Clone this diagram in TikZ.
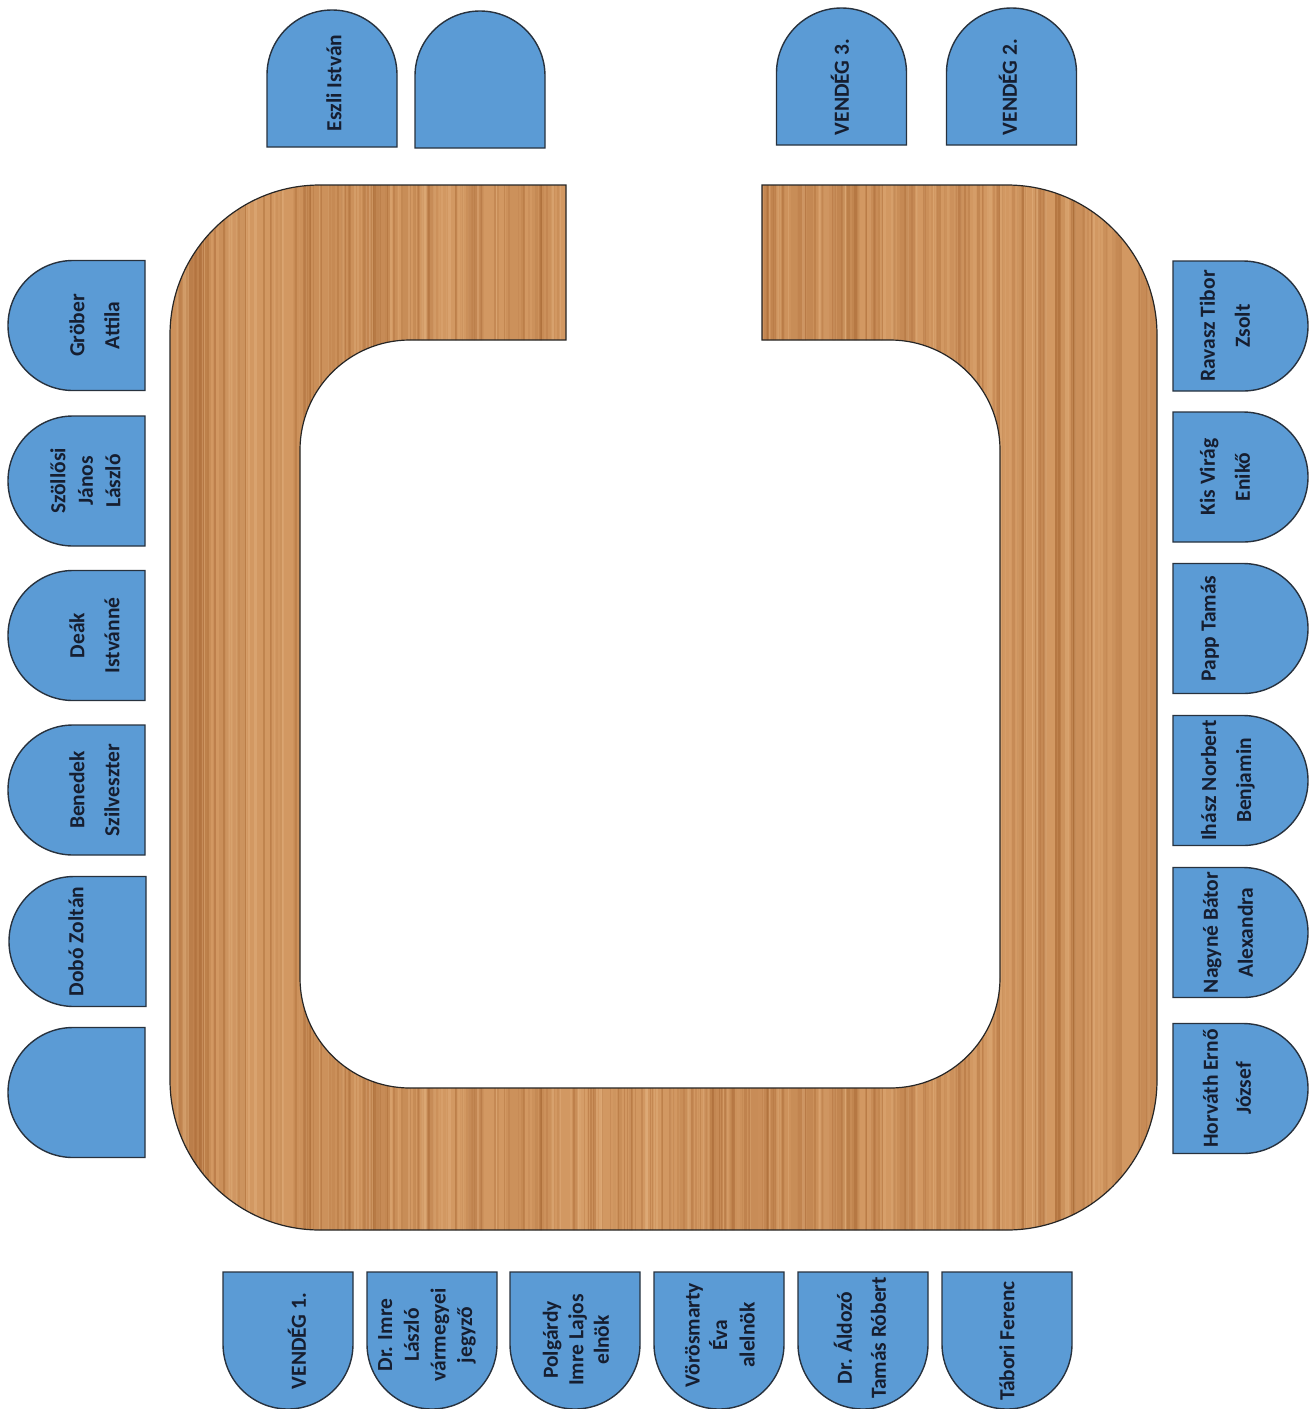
\documentclass[tikz,border=0pt]{standalone}
\usepackage{fontspec}
\setmainfont{Carlito}
\definecolor{chairblue}{RGB}{91,155,213}
\definecolor{chairedge}{RGB}{40,50,62}
\definecolor{txtc}{RGB}{22,30,48}
\definecolor{woodbase}{RGB}{210,152,98}
\definecolor{wooddark}{RGB}{165,100,48}
\definecolor{woodlight}{RGB}{230,182,132}
\tikzset{
  chair/.style={fill=chairblue,draw=chairedge,line width=1.4},
  lbl/.style={rotate=90,align=center,text=txtc,inner sep=0,font=\fontsize{21.5}{#1}\selectfont\bfseries},
  lbl/.default=30,
  tableedge/.style={draw=black!85,line width=1.2}
}
% chairs: #1 flat-edge coordinate, #2 centre along the edge
\newcommand\chairL[2]{\draw[chair] (#1,#2-65) -- (#1,#2+65) -- (#1-72,#2+65) arc[start angle=90,end angle=270,x radius=65,y radius=65] -- cycle;}
\newcommand\chairR[2]{\draw[chair] (#1,#2-65) -- (#1,#2+65) -- (#1+70,#2+65) arc[start angle=90,end angle=-90,x radius=65,y radius=65] -- cycle;}
\newcommand\chairT[2]{\draw[chair] (#2-65,#1) -- (#2+65,#1) -- (#2+65,#1-72) arc[start angle=0,end angle=-180,x radius=65,y radius=65] -- cycle;}
\newcommand\chairB[2]{\draw[chair] (#2-65,#1) -- (#2+65,#1) -- (#2+65,#1+72) arc[start angle=0,end angle=180,x radius=65,y radius=65] -- cycle;}
\def\tablepath{(566,185) -- (320,185) arc[start angle=-90,end angle=-180,radius=150]
  -- (170,1080) arc[start angle=180,end angle=90,radius=150]
  -- (1007,1230) arc[start angle=90,end angle=0,radius=150]
  -- (1157,335) arc[start angle=0,end angle=-90,radius=150]
  -- (762,185) -- (762,340) -- (890,340) arc[start angle=-90,end angle=0,radius=110]
  -- (1000,978) arc[start angle=0,end angle=90,radius=110]
  -- (410,1088) arc[start angle=90,end angle=180,radius=110]
  -- (300,450) arc[start angle=180,end angle=270,radius=110]
  -- (566,340) -- cycle}
\begin{document}
\begin{tikzpicture}[x=1pt,y=-1pt]
\useasboundingbox[fill=white] (0,0) rectangle (1316,1409);
% ---------- table with wood grain ----------
\begin{scope}
\clip \tablepath;
\fill[woodbase] (160,175) rectangle (1170,1240);
\pgfmathsetseed{11}
\foreach \i in {1,...,50}{
  \pgfmathsetmacro\xx{170+987*rnd}
  \pgfmathsetmacro\ww{6+18*rnd}
  \pgfmathsetmacro\op{0.08+0.16*rnd}
  \fill[wooddark,opacity=\op] (\xx,175) rectangle ++(\ww,1070);
}
\foreach \i in {1,...,380}{
  \pgfmathsetmacro\xx{170+987*rnd}
  \pgfmathsetmacro\ww{0.8+2.4*rnd}
  \pgfmathsetmacro\op{0.10+0.30*rnd}
  \pgfmathsetmacro\dk{rnd}
  \ifdim\dk pt<0.55pt
    \fill[wooddark,opacity=\op] (\xx,175) rectangle ++(\ww,1070);
  \else
    \fill[woodlight,opacity=\op] (\xx,175) rectangle ++(\ww,1070);
  \fi
}
\end{scope}
\draw[tableedge] \tablepath;
% ---------- chairs: left ----------
\chairL{145}{325.5}
\chairL{145}{481}
\chairL{145}{635.5}
\chairL{145}{790}
\chairL{146}{941.5}
\chairL{145}{1092.5}
% right
\chairR{1173}{326}
\chairR{1173}{477}
\chairR{1173}{628.5}
\chairR{1173}{780.5}
\chairR{1173}{932.5}
\chairR{1173}{1088.5}
% top
\chairT{147}{332}
\chairT{148}{480}
\chairT{145}{841.5}
\chairT{145}{1011.5}
% bottom
\chairB{1272}{288}
\chairB{1272}{432}
\chairB{1272}{575}
\chairB{1272}{719}
\chairB{1272}{863}
\chairB{1272}{1007}
% ---------- labels ----------
\node[lbl=35] (l1) at (94.5,325.5) {Gröber\\Attila};
\node[lbl=27.5] (l2) at (85.5,481) {Szöllősi\\János\\László};
\node[lbl=35] (l3) at (94.5,635.5) {Deák\\Istvánné};
\node[lbl=35] (l4) at (94.5,790) {Benedek\\Szilveszter};
\node[lbl] (l5) at (76,941.5) {Dobó Zoltán};
\node[lbl=35] (r1) at (1225,326) {Ravasz Tibor\\Zsolt};
\node[lbl=35] (r2) at (1225,477) {Kis Virág\\Enikő};
\node[lbl] (r3) at (1210,628.5) {Papp Tamás};
\node[lbl=35] (r4) at (1228,780.5) {Ihász Norbert\\Benjamin};
\node[lbl=35] (r5) at (1228,932.5) {Nagyné Bátor\\Alexandra};
\node[lbl=33] (r6) at (1227,1088.5) {Horváth Ernő\\József};
\node[lbl] (t1) at (334,83) {Eszli István};
\node[lbl] (t3) at (840,87) {VENDÉG 3.};
\node[lbl] (t4) at (1008,87) {VENDÉG 2.};
\node[lbl] (b1) at (297,1341) {VENDÉG 1.};
\node[lbl=26.7] (b2) at (427,1335) {Dr. Imre\\László\\vármegyei\\jegyző};
\node[lbl=25.5] (b3) at (576,1340) {Polgárdy\\Imre Lajos\\elnök};
\node[lbl=27.5] (b4) at (720,1335) {Vörösmarty\\Éva\\alelnök};
\node[lbl=34] (b5) at (860,1338) {Dr. Áldozó\\Tamás Róbert};
\node[lbl] (b6) at (1007,1341) {Tábori Ferenc};
\end{tikzpicture}
\end{document}
